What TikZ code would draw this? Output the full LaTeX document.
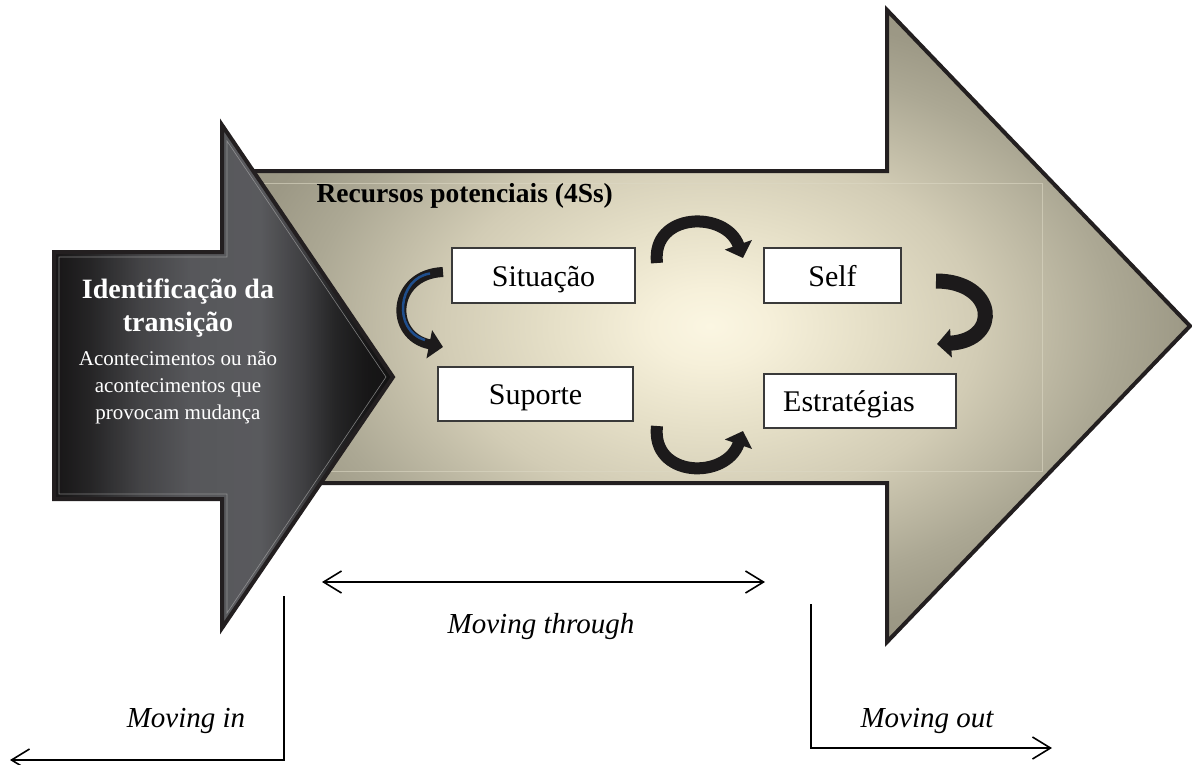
\documentclass[tikz,border=0pt]{standalone}
\usepackage{fontspec}
\setmainfont{Liberation Serif}
\usetikzlibrary{arrows.meta,fadings}
\definecolor{outline}{HTML}{231F20}
\definecolor{boxborder}{HTML}{3A3A3A}
\definecolor{curve}{HTML}{1C1A1B}
\definecolor{curveblue}{HTML}{1F4E8C}
\definecolor{bA}{HTML}{FBF6E2}
\definecolor{bB}{HTML}{F6F0DA}
\definecolor{bC}{HTML}{E6E0C8}
\definecolor{bD}{HTML}{D2CCB5}
\definecolor{bE}{HTML}{ACA894}
\definecolor{bF}{HTML}{9C9885}
\definecolor{bG}{HTML}{928E7C}
\definecolor{dA}{HTML}{242223}
\definecolor{dB}{HTML}{3A393B}
\definecolor{dC}{HTML}{68686C}
\definecolor{dD}{HTML}{86878C}
\definecolor{dE}{HTML}{8A8B90}
\definecolor{dF}{HTML}{606064}
\definecolor{dG}{HTML}{3A3A3C}
\definecolor{dH}{HTML}{252425}
\definecolor{dI}{HTML}{1E1D1E}
\definecolor{innerline}{HTML}{DCD8C4}
\pgfdeclareradialshading{bigrad}{\pgfpoint{0bp}{0bp}}{color(0bp)=(bA); color(3bp)=(bB); color(8bp)=(bC); color(14bp)=(bD); color(21bp)=(bE); color(25bp)=(bF); color(35bp)=(bG); color(50bp)=(bG)}
\pgfdeclarehorizontalshading{darkh}{100bp}{color(0bp)=(dA); color(25bp)=(dA); color(30.3bp)=(dB); color(37.7bp)=(dC); color(45.1bp)=(dD); color(55.4bp)=(dE); color(62bp)=(dF); color(66.4bp)=(dG); color(70.9bp)=(dH); color(75bp)=(dI); color(100bp)=(dI)}
\tikzfading[name=vdark, top color=transparent!65, middle color=transparent!100, bottom color=transparent!65]
\tikzset{guidetip/.tip={Straight Barb[length=18pt,width=22pt,line width=1.6pt]}}
\begin{document}
\begin{tikzpicture}[x=1pt,y=-1pt,
  outl/.style={draw=outline, line width=4pt, line join=miter},
  box/.style={draw=boxborder, line width=1.3pt, fill=white, inner sep=0pt, text height=24pt, text depth=3pt, font=\fontsize{30}{32}\selectfont},
  boxtext/.style={inner sep=0pt, text height=24pt, text depth=3pt, font=\fontsize{30}{32}\selectfont},
  bendarrow/.style={line width=#1, draw=curve, -{Triangle[length=14pt,width=28pt]}},
  guide/.style={line width=1.6pt, draw=black},
  lbl/.style={font=\fontsize{29}{31}\selectfont\itshape}]
\useasboundingbox (0,0) rectangle (1192,764);

% big arrow
\path[shading=bigrad, outl] (230,171) -- (887,171) -- (887,10) -- (1190,326) -- (887,642) -- (887,483) -- (230,483) -- cycle;
\draw[innerline, line width=0.8pt, opacity=0.6] (258,183) rectangle (1042,471);

% dark arrow
\path[shading=darkh] (54,252) -- (222,252) -- (222,125) -- (393,377) -- (222,628) -- (222,499) -- (54,499) -- cycle;
\fill[black, path fading=vdark] (54,252) -- (222,252) -- (222,125) -- (393,377) -- (222,628) -- (222,499) -- (54,499) -- cycle;
\draw[outl] (54,252) -- (222,252) -- (222,125) -- (393,377) -- (222,628) -- (222,499) -- (54,499) -- cycle;
\draw[gray!70, line width=0.6pt, opacity=0.7] (59,257) -- (227,257) -- (227,141) -- (386,377) -- (227,613) -- (227,494) -- (59,494) -- cycle;

% texts in dark arrow
\node[text=white, align=center, font=\fontsize{28}{33}\selectfont\bfseries] (ident) at (178,308) {Identificação da\\transição};
\node[text=white, align=center, font=\fontsize{21}{27}\selectfont] (acont) at (178,388) {Acontecimentos ou não\\acontecimentos que\\provocam mudança};

% title
\node[anchor=west, font=\fontsize{27.5}{30}\selectfont\bfseries] (rec) at (313,196) {Recursos potenciais (4Ss)};

% boxes
\node[box, minimum width=183pt, minimum height=55pt] (sit) at (543.5,275.5) {Situação};
\node[box, minimum width=195pt, minimum height=54pt] (sup) at (535.5,394) {Suporte};
\node[box, minimum width=137pt, minimum height=55pt] (self) at (832.5,275.5) {Self};
\node[box, minimum width=192pt, minimum height=54pt] (est) at (860,401) {};
\node[boxtext, xshift=-11pt] (estlbl) at (est.center) {Estratégias};

% curved arrows
\coordinate (l1) at (443,272);
\coordinate (l2) at (443,347);
\draw[bendarrow=10pt] (l1) .. controls (392,274) and (388,336) .. (l2);
\draw[curveblue, line width=2.5pt] (430,273.5) .. controls (398,278) and (392,330) .. (425,340);

\coordinate (t1) at (657,263);
\coordinate (t2) at (743,258);
\draw[bendarrow=12pt] (t1) .. controls (651,212) and (726,210) .. (t2);

\coordinate (b1) at (657,426);
\coordinate (b2) at (743,431);
\draw[bendarrow=12pt] (b1) .. controls (651,478) and (726,480) .. (b2);

\coordinate (r1) at (936,281);
\coordinate (r2) at (937,344);
\draw[bendarrow=15pt] (r1) .. controls (996,281) and (1002,340) .. (r2);

% guide lines
\coordinate (thL) at (322,582);
\coordinate (thR) at (765,582);
\draw[guide, guidetip-guidetip] (thL) -- (thR);
\node[lbl] (through) at (541,627) {Moving through};

\coordinate (inTop) at (284,596);
\coordinate (inCorner) at (284,760);
\coordinate (inEnd) at (10,760);
\draw[guide, -guidetip] (inTop) -- (inCorner) -- (inEnd);
\node[lbl] (movin) at (186,721) {Moving in};

\coordinate (outTop) at (811,604);
\coordinate (outCorner) at (811,748);
\coordinate (outEnd) at (1052,748);
\draw[guide, -guidetip] (outTop) -- (outCorner) -- (outEnd);
\node[lbl] (movout) at (927,721) {Moving out};
\end{tikzpicture}
\end{document}
